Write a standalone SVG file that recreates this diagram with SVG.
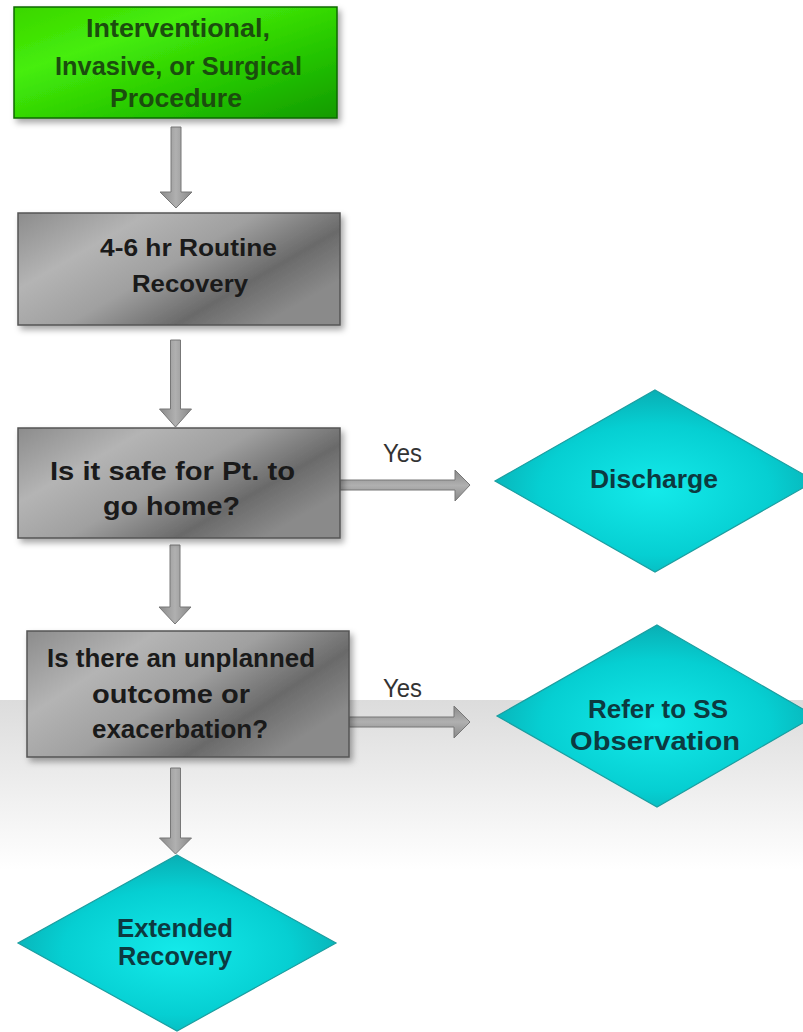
<svg xmlns="http://www.w3.org/2000/svg" width="803" height="1032" viewBox="0 0 803 1032">
<defs>
<linearGradient id="bg" x1="0" y1="0" x2="0" y2="1">
<stop offset="0" stop-color="#dcdcdc"/>
<stop offset="1" stop-color="#ffffff"/>
</linearGradient>
<linearGradient id="green" x1="0" y1="0" x2="1" y2="1">
<stop offset="0" stop-color="#3ad600"/>
<stop offset="0.3" stop-color="#46ee0a"/>
<stop offset="0.7" stop-color="#22c200"/>
<stop offset="1" stop-color="#139a00"/>
</linearGradient>
<linearGradient id="gray" x1="0" y1="0" x2="1" y2="0.6">
<stop offset="0" stop-color="#8c8c8c"/>
<stop offset="0.3" stop-color="#b4b4b4"/>
<stop offset="0.55" stop-color="#a0a0a0"/>
<stop offset="0.8" stop-color="#6a6a6a"/>
<stop offset="1" stop-color="#8a8a8a"/>
</linearGradient>
<radialGradient id="cyan" cx="0.5" cy="0.55" r="0.6">
<stop offset="0" stop-color="#14eaea"/>
<stop offset="0.6" stop-color="#06cfd2"/>
<stop offset="1" stop-color="#0aa6ac"/>
</radialGradient>
<linearGradient id="arrowV" x1="0" y1="0" x2="1" y2="0">
<stop offset="0" stop-color="#8a8a8a"/>
<stop offset="0.5" stop-color="#b0b0b0"/>
<stop offset="1" stop-color="#888888"/>
</linearGradient>
<linearGradient id="arrowH" x1="0" y1="0" x2="0" y2="1">
<stop offset="0" stop-color="#8a8a8a"/>
<stop offset="0.5" stop-color="#b0b0b0"/>
<stop offset="1" stop-color="#888888"/>
</linearGradient>
<filter id="shadow" x="-10%" y="-10%" width="125%" height="130%">
<feDropShadow dx="3" dy="4" stdDeviation="3" flood-color="#000" flood-opacity="0.35"/>
</filter>
</defs>
<style>
.t{font-family:"Liberation Sans",Arial,sans-serif;font-weight:bold;text-anchor:middle;}
.gt{fill:#1b4d0e;font-size:25px;}
.kt{fill:#1a1a1a;font-size:23px;}
.ct{fill:#0c3a40;font-size:25px;}
.yes{font-family:"Liberation Sans",Arial,sans-serif;font-size:26px;fill:#333;text-anchor:middle;}
.box{stroke:#555;stroke-width:1.5;filter:url(#shadow);}
.dia{fill:url(#cyan);stroke:#1b9ea0;stroke-width:1.2;}
.av{fill:url(#arrowV);stroke:#777;stroke-width:1;}
.ah{fill:url(#arrowH);stroke:#777;stroke-width:1;}
</style>
<rect x="0" y="0" width="803" height="1032" fill="#ffffff"/>
<rect x="0" y="700" width="803" height="170" fill="url(#bg)"/>

<g id="connectors">
<polygon class="av" points="171,127 181,127 181,192 192,192 176,208 160,192 171,192"/>
<polygon class="av" points="170.5,340 180.5,340 180.5,409 191.5,409 175.5,427 159.5,409 170.5,409"/>
<polygon class="av" points="170,545 180,545 180,607 191,607 175,624 159,607 170,607"/>
<polygon class="av" points="170.5,768 180.5,768 180.5,838 191.5,838 175.5,854 159.5,838 170.5,838"/>
<polygon class="ah" points="340,480 455,480 455,470 470,485 455,501 455,490 340,490"/>
<polygon class="ah" points="349,717 454,717 454,706 470,722 454,738 454,727 349,727"/>
<text class="yes" x="402.5" y="462" textLength="39" lengthAdjust="spacingAndGlyphs">Yes</text>
<text class="yes" x="402.5" y="697" textLength="39" lengthAdjust="spacingAndGlyphs">Yes</text>
</g>

<g id="procedure">
<rect x="14" y="7" width="323" height="111" fill="url(#green)" stroke="#0d6a00" stroke-width="1.5" filter="url(#shadow)"/>
<text class="t gt" x="178" y="37" textLength="184" lengthAdjust="spacingAndGlyphs">Interventional,</text>
<text class="t gt" x="178.5" y="75" textLength="247" lengthAdjust="spacingAndGlyphs">Invasive, or Surgical</text>
<text class="t gt" x="176" y="107" textLength="132" lengthAdjust="spacingAndGlyphs">Procedure</text>
</g>

<g id="routine">
<rect class="box" x="18" y="213" width="322" height="112" fill="url(#gray)"/>
<text class="t kt" x="188.5" y="256" font-size="22" textLength="177" lengthAdjust="spacingAndGlyphs">4-6 hr Routine</text>
<text class="t kt" x="190" y="292" font-size="22" textLength="116" lengthAdjust="spacingAndGlyphs">Recovery</text>
</g>

<g id="safe">
<rect class="box" x="18" y="428" width="322" height="110" fill="url(#gray)"/>
<text class="t kt" x="172.5" y="480" style="font-size:25px" textLength="245" lengthAdjust="spacingAndGlyphs">Is it safe for Pt. to</text>
<text class="t kt" x="171.5" y="515" style="font-size:25px" textLength="137" lengthAdjust="spacingAndGlyphs">go home?</text>
</g>

<g id="unplanned">
<rect class="box" x="27" y="631" width="322" height="126" fill="url(#gray)"/>
<text class="t kt" x="181" y="667" style="font-size:25px" textLength="268" lengthAdjust="spacingAndGlyphs">Is there an unplanned</text>
<text class="t kt" x="171" y="703" style="font-size:25px" textLength="158" lengthAdjust="spacingAndGlyphs">outcome or</text>
<text class="t kt" x="180" y="738" style="font-size:25px" textLength="176" lengthAdjust="spacingAndGlyphs">exacerbation?</text>
</g>

<g id="discharge">
<polygon class="dia" points="655,390 815,481 655,572 495,481"/>
<text class="t ct" x="654" y="488" textLength="128" lengthAdjust="spacingAndGlyphs">Discharge</text>
</g>

<g id="refer">
<polygon class="dia" points="657,625 815,716 657,807 497,716"/>
<text class="t ct" x="658" y="718" style="font-size:26px" textLength="140" lengthAdjust="spacingAndGlyphs">Refer to SS</text>
<text class="t ct" x="655" y="750" style="font-size:26px" textLength="170" lengthAdjust="spacingAndGlyphs">Observation</text>
</g>

<g id="extended">
<polygon class="dia" points="177,855 336,943 177,1031 18,943"/>
<text class="t ct" x="175" y="937" style="font-size:26px" textLength="116" lengthAdjust="spacingAndGlyphs">Extended</text>
<text class="t ct" x="175" y="965" style="font-size:26px" textLength="114" lengthAdjust="spacingAndGlyphs">Recovery</text>
</g>
</svg>
